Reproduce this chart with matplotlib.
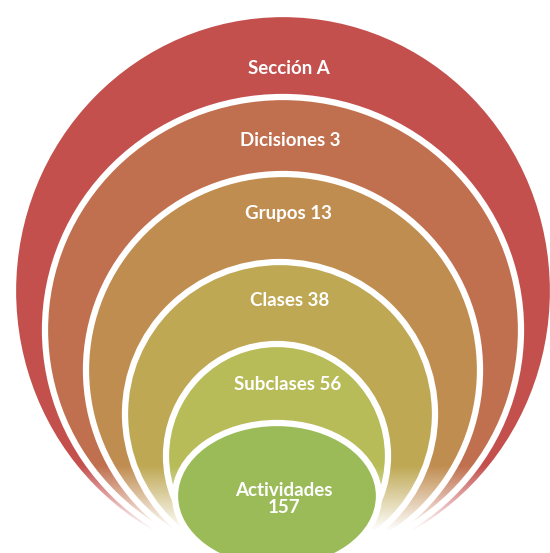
import numpy as np
import matplotlib.pyplot as plt
from matplotlib.patches import Ellipse

# niveles de la clasificación, de afuera hacia adentro
etiquetas = ["Sección A", "Dicisiones 3", "Grupos 13", "Clases 38",
             "Subclases 56", "Actividades\n157"]
colores = ["#C4504E", "#C0704E", "#C08D50", "#BFA853", "#B8BC58", "#9BBB59"]

# geometría de cada óvalo (en píxeles): centro, ancho, alto
cx = [283, 283, 283, 280, 277, 277]
cy = [291, 330, 370, 414, 456, 496]
ancho = [540, 476, 394, 310, 222, 204]
alto = [554, 466, 392, 304, 224, 146]
texto_x = [289, 290, 288, 290, 288, 284]
texto_y = [68, 141, 213, 300, 385, 499]

W, H = 550, 553
fig = plt.figure(figsize=(W / 100, H / 100), dpi=100)
ax = fig.add_axes([0, 0, 1, 1])
ax.set_xlim(0, W)
ax.set_ylim(H, 0)
ax.axis("off")

for i in range(len(etiquetas)):
    e = Ellipse((cx[i], cy[i]), ancho[i], alto[i], facecolor=colores[i],
                edgecolor="white", linewidth=4.5, zorder=i + 1)
    ax.add_patch(e)

# desvanecido hacia blanco en la parte de abajo de los anillos exteriores
yy = np.arange(H)
alfa = np.clip((yy - 465) / 65.0, 0, 1)
capa = np.ones((H, 1, 4))
capa[:, 0, 3] = alfa
ax.imshow(capa, extent=[0, W, H, 0], aspect="auto", zorder=5.5,
          interpolation="bilinear")

for i, txt in enumerate(etiquetas):
    ax.text(texto_x[i], texto_y[i], txt, color="white", fontsize=13.5,
            fontweight="bold", family="Lato", ha="center", va="center",
            linespacing=1.05, zorder=10)

fig.savefig("out.png", dpi=100)
